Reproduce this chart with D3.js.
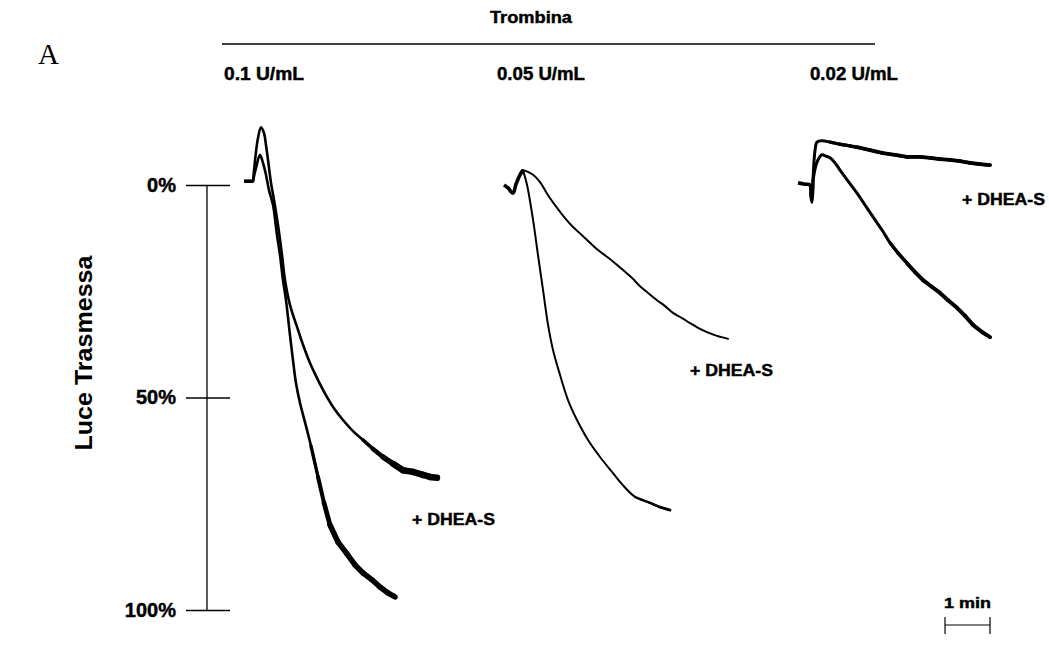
<!DOCTYPE html>
<html>
<head>
<meta charset="utf-8">
<script src="https://cdn.jsdelivr.net/npm/d3@7"></script>
<style>
  html, body { margin: 0; padding: 0; background: #fff; }
  svg { display: block; }
  text { font-family: "Liberation Sans", Arial, sans-serif; fill: #000; }
  .heavy { stroke: #000; stroke-width: 0.45px; }
</style>
</head>
<body>
<svg id="chart" width="1049" height="653"></svg>
<script>
// ---------- data (time in seconds from panel start, value in % transmitted light) ----------
const panelLabels = ["0.1 U/mL", "0.05 U/mL", "0.02 U/mL"];
const panelStarts = [0, 346.7, 738.7]; // seconds on common time line
const yTicks = [0, 50, 100];
const yTickLabels = ["0%", "50%", "100%"];

// Panel 1 (0.1 U/mL)
const p1Base = [[0, -0.9], [12, -0.9]];
const p1Dhea = [[18.7, -11.1], [22.7, -13.6], [26.7, -12.2], [29.3, -9.4], [32, -5.9], [36, -0.5], [40, 3.5],
  [45.3, 9.4], [50.7, 16.5], [54.7, 22.4], [61.3, 28.2], [70.7, 33.4], [78.7, 37.6], [88, 41.9], [98.7, 45.9],
  [110.7, 49.9], [121.3, 52.9], [132, 55.3], [145.3, 57.9], [158.7, 60.0], [172, 62.1], [185.3, 64.0],
  [198.7, 65.6], [212, 67.1], [225.3, 67.5], [238.7, 68.2], [248, 68.7], [257.3, 68.9]];
const p1Ctrl = [[16, -4.0], [21.3, -7.1], [25.3, -5.2], [29.3, -2.4], [33.3, 1.2], [38.7, 4.7], [44, 11.8],
  [48, 16.5], [52, 22.4], [56, 27.1], [61.3, 35.3], [65.3, 41.2], [69.3, 46.6], [74.7, 51.3], [81.3, 55.8],
  [89.3, 61.4], [98.7, 68.7], [106.7, 74.8], [114.7, 80.0], [125.3, 84.0], [137.3, 86.8], [148, 89.4],
  [158.7, 91.3], [170.7, 92.9], [181.3, 94.6], [192, 96.0], [201.3, 96.9]];

// Panel 2 (0.05 U/mL)
const p2Base = [[0, 0], [5.3, 0.7], [12, 1.9], [16, -0.2], [21.3, -2.4], [25.3, -3.5]];
const p2Dhea = [[32, -3.1], [38.7, -2.4], [48, -0.7], [58.7, 2.4], [70.7, 5.4], [81.3, 7.8], [92, 9.9],
  [104, 11.8], [114.7, 13.6], [125.3, 15.3], [137.3, 16.9], [148, 18.4], [158.7, 20.0], [170.7, 21.9],
  [181.3, 23.8], [192, 25.4], [204, 27.1], [214.7, 28.5], [225.3, 30.1], [237.3, 31.3], [248, 32.5],
  [258.7, 33.6], [270.7, 34.6], [284, 35.5], [298.7, 36.2]];
const p2Ctrl = [[30.7, 0], [38.7, 8.2], [45.3, 16.5], [52, 24.7], [58.7, 32.9], [65.3, 38.8], [74.7, 44.7],
  [85.3, 50.6], [97.3, 55.3], [112, 60.0], [128, 64.0], [144, 67.5], [157.3, 70.4], [174.7, 73.4],
  [194.7, 74.8], [208, 75.8], [221.3, 76.5]];

// Panel 3 (0.02 U/mL)
const p3Base = [[0, -0.5], [9.3, -0.2], [16, 0], [17.3, 2.4], [18.7, 4.0], [20, -1.2]];
const p3Dhea = [[22.7, -8.2], [25.3, -10.1], [32, -10.4], [42.7, -10.1], [56, -9.6], [69.3, -9.2],
  [78.7, -8.9], [96, -8.2], [113.3, -7.5], [129.3, -7.1], [145.3, -6.6], [162.7, -6.6], [176, -6.4],
  [189.3, -6.1], [202.7, -5.9], [216, -5.6], [229.3, -5.2], [242.7, -4.9], [256, -4.7]];
const p3Ctrl = [[24, -4.7], [28, -6.4], [32, -7.1], [37.3, -6.8], [42.7, -6.4], [49.3, -5.2], [56, -3.5],
  [66.7, -0.9], [78.7, 1.9], [89.3, 4.7], [100, 7.5], [112, 10.6], [122.7, 13.6], [133.3, 16.0],
  [145.3, 18.4], [156, 20.5], [166.7, 22.4], [178.7, 24.0], [189.3, 25.4], [200, 27.1], [212, 28.9],
  [222.7, 30.8], [233.3, 32.9], [245.3, 34.6], [256, 35.8]];

const scaleBarSeconds = [0, 60];

// ---------- scales ----------
const svg = d3.select("#chart");
const x = d3.scaleLinear().domain([0, 60]).range([244, 289]);
const y = d3.scaleLinear().domain([0, 100]).range([185, 610]);

// [series, stroke width, time after which trace gets noisier (thicker), max width]
const panels = [
  { base: p1Base, series: [[p1Dhea, 2.6, 150, 6.5], [p1Ctrl, 2.6, 85, 5.5]], label: [412, 525] },
  { base: p2Base, series: [[p2Dhea, 2.0, 999, 2.0], [p2Ctrl, 2.0, 170, 3]], label: [690, 376] },
  { base: p3Base, series: [[p3Dhea, 3.0, 40, 3.8], [p3Ctrl, 3.0, 120, 4]], label: [962, 205] }
];

const line = d3.line()
  .x(d => x(d[0]))
  .y(d => y(d[1]))
  .curve(d3.curveCatmullRom.alpha(0.5));
const seg = d3.line().x(d => x(d[0])).y(d => y(d[1]));

panels.forEach((p, i) => {
  const off = panelStarts[i];
  const shift = arr => arr.map(d => [d[0] + off, d[1]]);
  const last = p.base[p.base.length - 1];
  const g = svg.append("g");
  g.append("path").attr("d", line(shift(p.base)))
    .attr("fill", "none").attr("stroke", "#000").attr("stroke-width", 3.6).attr("stroke-linejoin", "round");
  p.series.forEach(([s, w, tail, tw]) => {
    g.append("path").attr("d", line(shift([last].concat(s))))
      .attr("fill", "none").attr("stroke", "#000").attr("stroke-width", w)
      .attr("stroke-linejoin", "round").attr("stroke-linecap", "round");
    const t = shift(s.filter(d => d[0] >= tail));
    for (let k = 1; k < t.length; k++) {
      const f = Math.min(1, k / 4);
      g.append("path").attr("d", seg([t[k - 1], t[k]]))
        .attr("fill", "none").attr("stroke", "#000").attr("stroke-width", w + (tw - w) * f)
        .attr("stroke-linecap", "round");
    }
  });
  g.append("text").attr("class", "heavy").attr("x", p.label[0]).attr("y", p.label[1])
    .attr("font-size", 17).attr("font-weight", "bold")
    .attr("textLength", 83).attr("lengthAdjust", "spacingAndGlyphs")
    .text("+ DHEA-S");
});

// ---------- y axis ----------
const axis = d3.axisLeft(y).tickValues(yTicks).tickSize(44).tickPadding(10)
  .tickFormat((d, i) => yTickLabels[i]);
const ag = svg.append("g").attr("transform", "translate(230,0)").call(axis);
ag.select(".domain").remove();
ag.selectAll(".tick line").attr("stroke", "#000").attr("stroke-width", 1.3);
ag.selectAll(".tick text").attr("class", "heavy").attr("font-size", 20).attr("font-weight", "bold")
  .attr("font-family", "Liberation Sans, Arial, sans-serif").attr("fill", "#000");
svg.append("line").attr("x1", 207).attr("x2", 207).attr("y1", y(0)).attr("y2", y(100))
  .attr("stroke", "#000").attr("stroke-width", 1.3);

svg.append("text")
  .attr("transform", "translate(92,353) rotate(-90)")
  .attr("text-anchor", "middle").attr("font-size", 23).attr("font-weight", "bold")
  .attr("textLength", 195).attr("lengthAdjust", "spacingAndGlyphs")
  .text("Luce Trasmessa");

// ---------- header ----------
svg.append("text").attr("x", 38).attr("y", 64)
  .style("font-family", "'Liberation Serif', 'Times New Roman', serif")
  .attr("font-size", 29).text("A");
svg.append("text").attr("class", "heavy").attr("x", 490).attr("y", 23).attr("font-size", 16).attr("font-weight", "bold")
  .attr("textLength", 82).attr("lengthAdjust", "spacingAndGlyphs").text("Trombina");
svg.append("line").attr("x1", 222).attr("x2", 875).attr("y1", 44).attr("y2", 44)
  .attr("stroke", "#000").attr("stroke-width", 1.3);
const headX = [224, 497, 810];
const headW = [80, 88, 88];
panelLabels.forEach((t, i) => {
  svg.append("text").attr("class", "heavy").attr("x", headX[i]).attr("y", 80).attr("font-size", 18).attr("font-weight", "bold")
    .attr("textLength", headW[i]).attr("lengthAdjust", "spacingAndGlyphs").text(t);
});

// ---------- time scale bar ----------
const sbOff = 934.7;
const sx0 = x(sbOff + scaleBarSeconds[0]), sx1 = x(sbOff + scaleBarSeconds[1]);
svg.append("line").attr("x1", sx0).attr("x2", sx1).attr("y1", 625).attr("y2", 625).attr("stroke", "#000").attr("stroke-width", 1.2);
[sx0, sx1].forEach(v => svg.append("line").attr("x1", v).attr("x2", v).attr("y1", 617).attr("y2", 634)
  .attr("stroke", "#000").attr("stroke-width", 1.2));
svg.append("text").attr("class", "heavy").attr("x", (sx0 + sx1) / 2).attr("y", 608).attr("text-anchor", "middle")
  .attr("font-size", 14).attr("font-weight", "bold")
  .attr("textLength", 47).attr("lengthAdjust", "spacingAndGlyphs").text("1 min");
</script>
</body>
</html>
